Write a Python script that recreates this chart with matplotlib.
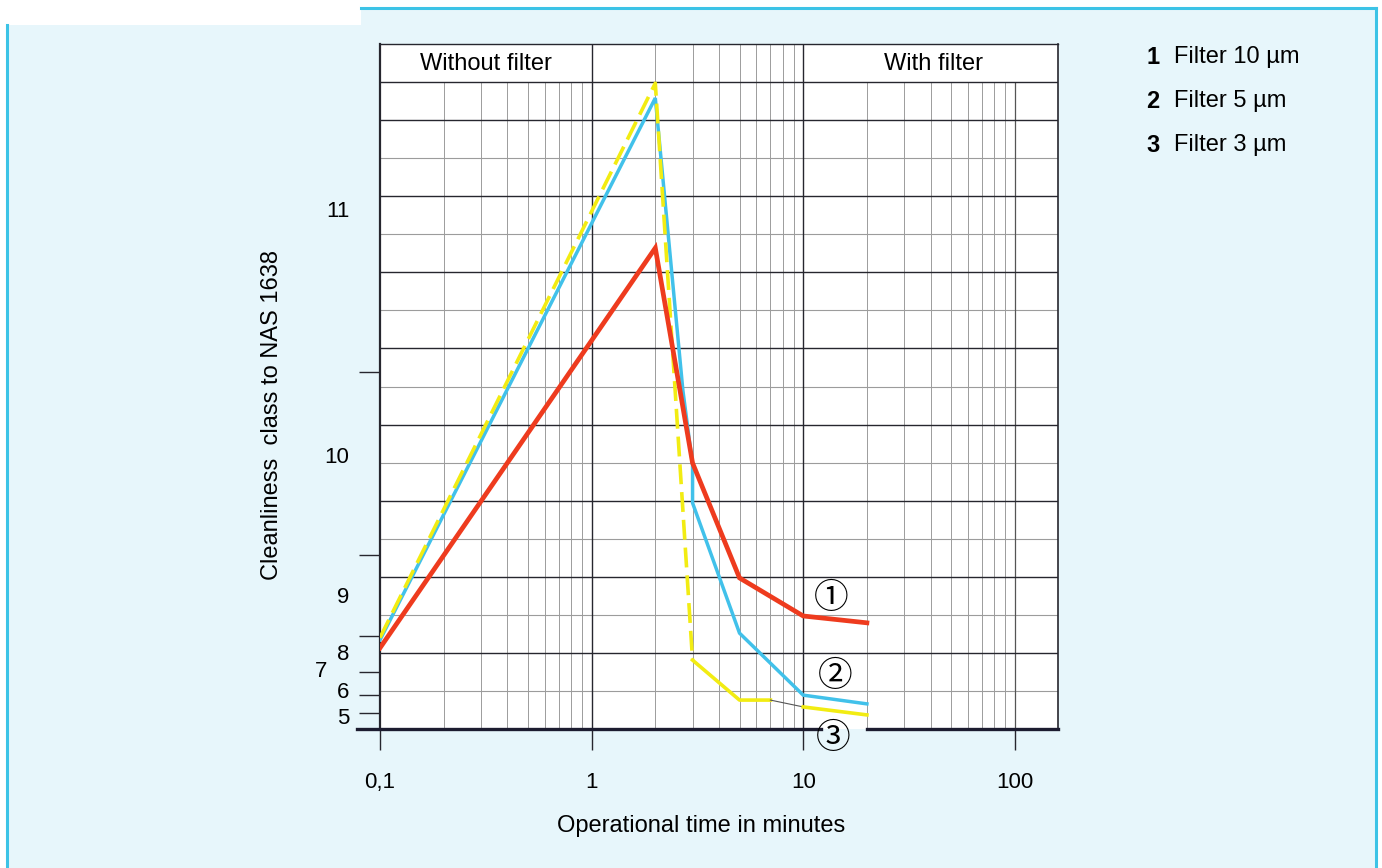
import numpy as np
import matplotlib.pyplot as plt
from matplotlib.patches import Rectangle
from matplotlib.lines import Line2D
from matplotlib.ticker import NullLocator
from matplotlib.transforms import blended_transform_factory

plt.rcParams['font.family'] = ['Liberation Sans', 'DejaVu Sans']

# Operational time (minutes) and cleanliness class in chart grid units
minutes_10um = [0.1, 2, 3, 5, 10, 20]
class_10um = [2.13, 12.64, 6.99, 3.97, 2.97, 2.79]

minutes_5um = [0.1, 2, 2.7, 3, 3, 5, 10, 20]
class_5um = [2.34, 16.58, 8.9, 6.94, 5.94, 2.52, 0.89, 0.66]

minutes_3um = [0.1, 2, 3, 5, 7, 10, 20]
class_3um = [2.4, 16.97, 1.81, 0.76, 0.76, 0.58, 0.37]

# NAS 1638 class scale (labels and boundary marks on the grid)
class_labels = ['11', '10', '9', '8', '7', '6', '5']
class_label_pos = [13.61, 7.14, 3.46, 1.97, 1.50, 0.97, 0.27]
class_marks = [9.38, 4.58, 2.44, 1.50, 0.89, 0.42]

time_ticks = [0.1, 1, 10, 100]
time_labels = ['0,1', '1', '10', '100']

legend_ids = ['1', '2', '3']
legend_texts = ['Filter 10 \u00b5m', 'Filter 5 \u00b5m', 'Filter 3 \u00b5m']

RED = '#ee3b1e'
CYAN = '#41c1ea'
YELLOW = '#f2ec12'
DARK = '#26262e'
PALE = '#9c9c9c'
PANEL = '#e7f6fb'
BORDER = '#3cc3e6'

W, H = 1382, 868
fig = plt.figure(figsize=(W / 100, H / 100), dpi=100, facecolor='white')


def fx(px):
    return px / W


def fy(py):
    return 1 - py / H


# light blue panel with cyan border, white notch top-left
fig.patches.append(Rectangle((fx(7), 0), fx(1376) - fx(7), fy(8), transform=fig.transFigure,
                             facecolor=PANEL, edgecolor='none', zorder=-3))
fig.patches.append(Rectangle((0, fy(25)), fx(361), 1 - fy(25), transform=fig.transFigure,
                             facecolor='white', edgecolor='none', zorder=-3))
for xs, ys in [([fx(361), fx(1376)], [fy(8), fy(8)]),
               ([fx(7), fx(7)], [fy(25), 0]),
               ([fx(1376), fx(1376)], [fy(8), 0])]:
    fig.lines.append(Line2D(xs, ys, transform=fig.transFigure, color=BORDER, lw=2.2, zorder=-2))

XMIN, XMAX = 0.1, 160
ax = fig.add_axes([fx(380), fy(729), fx(1058) - fx(380), fy(44) - fy(729)])
ax.set_facecolor('white')
ax.set_xscale('log')
ax.set_xlim(XMIN, XMAX)
ax.set_ylim(0, 18)


def xfrac(v):
    return (np.log10(v) - np.log10(XMIN)) / (np.log10(XMAX) - np.log10(XMIN))


# grid
minor_lo = [0.2, 0.3, 0.4, 0.5, 0.6, 0.7, 0.8, 0.9]
minor_mid = [2, 3, 4, 5, 6, 7, 8, 9]
minor_hi = [20, 30, 40, 50, 60, 70, 80, 90]
ax.vlines(minor_lo + minor_hi, 0, 17, color=PALE, lw=0.7, zorder=1)
ax.vlines(minor_mid, 0, 18, color=PALE, lw=0.7, zorder=1)
ax.vlines([1, 10], 0, 18, color=DARK, lw=1.0, zorder=1.5)
ax.vlines([100], 0, 17, color='#555555', lw=0.9, zorder=1.5)
for u in range(1, 18):
    if u % 2 == 0 or u == 17:
        ax.hlines(u, XMIN, XMAX, color=DARK, lw=1.0, zorder=1.5)
    else:
        ax.hlines(u, XMIN, XMAX, color=PALE, lw=0.8, zorder=1)

# header row
hdr = blended_transform_factory(ax.transAxes, ax.transData)
ax.text(0.1556, 17.47, 'Without filter', transform=hdr, ha='center', va='center', fontsize=17)
ax.text(0.8164, 17.47, 'With filter', transform=hdr, ha='center', va='center', fontsize=17)

# curves
ax.plot(minutes_5um, class_5um, color=CYAN, lw=2.5, solid_joinstyle='miter', zorder=3)
ax.plot(minutes_3um[:3], class_3um[:3], color=YELLOW, lw=2.6, dashes=(5.5, 2.2), zorder=4)
ax.plot(minutes_3um[2:5], class_3um[2:5], color=YELLOW, lw=2.6, zorder=4)
ax.plot(minutes_3um[4:6], class_3um[4:6], color='#555555', lw=0.8, zorder=4)
ax.plot(minutes_3um[5:], class_3um[5:], color=YELLOW, lw=2.6, zorder=4)
ax.plot(minutes_10um, class_10um, color=RED, lw=3.4, solid_joinstyle='miter', zorder=5)

circ = ['Noto Sans CJK JP', 'DejaVu Sans']
ax.text(13.5, 3.44, '\u2460', family=circ, fontsize=25, ha='center', va='center', zorder=6)
ax.text(14.1, 1.37, '\u2461', family=circ, fontsize=25, ha='center', va='center', zorder=6)
ax.text(13.9, -0.24, '\u2462', family=circ, fontsize=25, ha='center', va='center', zorder=8,
        clip_on=False)

# spines; the thick base line is broken where the third curve label sits
for side in ['top', 'right', 'left']:
    ax.spines[side].set_color(DARK)
ax.spines['top'].set_linewidth(1.0)
ax.spines['right'].set_linewidth(1.2)
ax.spines['left'].set_linewidth(1.6)
ax.spines['bottom'].set_visible(False)
for x0, x1 in [(-0.034, xfrac(12.2)), (xfrac(20), 1.0)]:
    ax.add_line(Line2D([x0, x1], [0, 0], transform=ax.transAxes, color='#1c1c30',
                       lw=2.4, clip_on=False, zorder=7))

ax.set_xticks(time_ticks)
ax.set_xticklabels(time_labels)
ax.xaxis.set_minor_locator(NullLocator())
ax.tick_params(axis='x', length=15, width=1.0, direction='out', pad=16, labelsize=16,
               color=DARK)

ax.set_yticks(class_marks)
ax.set_yticklabels([])
ax.yaxis.set_minor_locator(NullLocator())
ax.tick_params(axis='y', length=15, width=1.0, direction='out', color=DARK)

ylab = blended_transform_factory(ax.transAxes, ax.transData)
for lab, pos in zip(class_labels, class_label_pos):
    xpos = -0.078 if lab == '7' else -0.045
    ax.text(xpos, pos, lab, transform=ylab, ha='right', va='center', fontsize=16)

ax.text(0.4735, -0.1416, 'Operational time in minutes', transform=ax.transAxes,
        ha='center', va='center', fontsize=17)
ax.text(-0.159, 0.458, 'Cleanliness  class to NAS 1638', transform=ax.transAxes,
        ha='center', va='center', rotation=90, fontsize=17)

# legend
for i, (num, txt) in enumerate(zip(legend_ids, legend_texts)):
    y = fy(57 + 44 * i)
    fig.text(fx(1153), y, num, ha='center', va='center', fontsize=17, fontweight='bold')
    fig.text(fx(1174), y, txt, ha='left', va='center', fontsize=17)

fig.savefig('out.png', dpi=100, facecolor=fig.get_facecolor())
